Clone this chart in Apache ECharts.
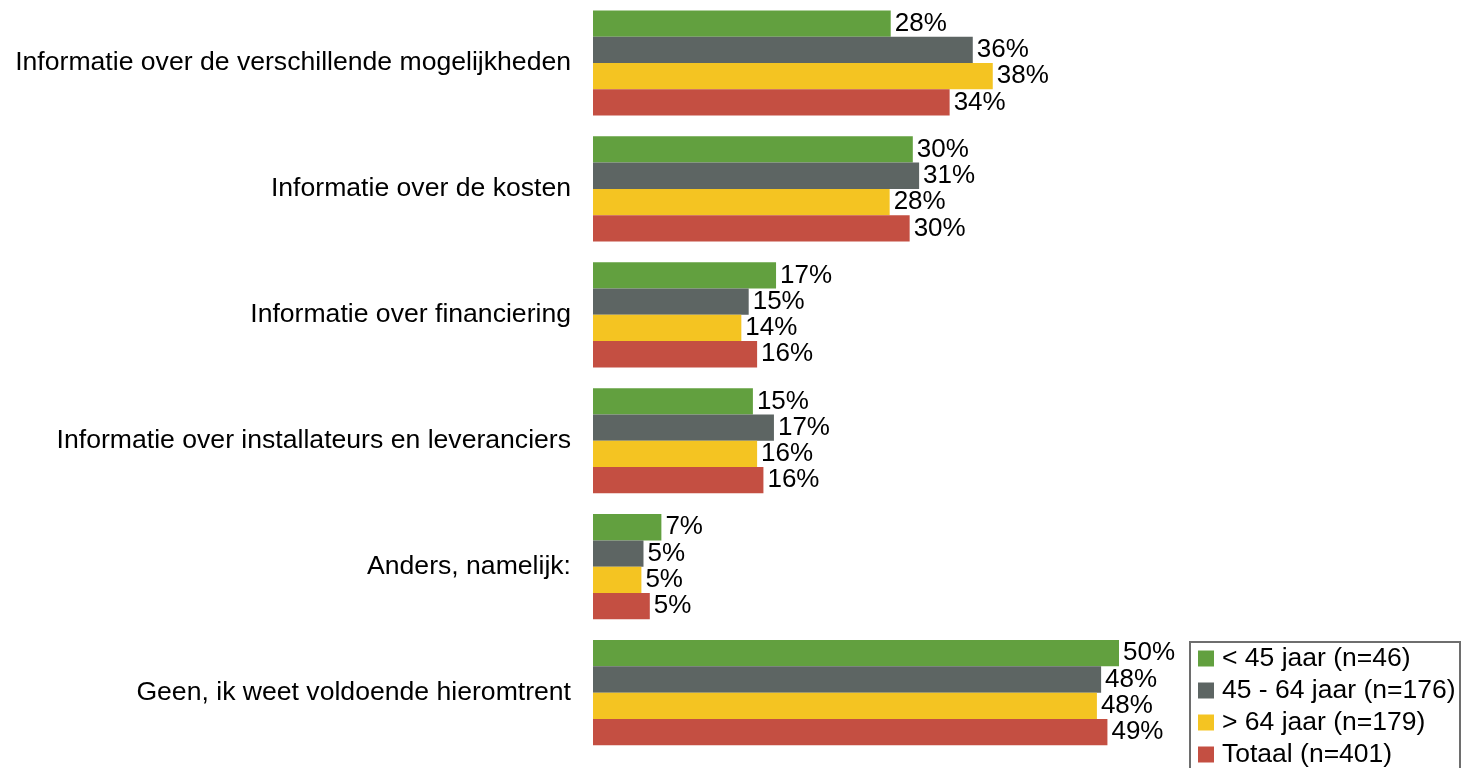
<!DOCTYPE html>
<html>
<head>
<meta charset="utf-8">
<script src="https://cdn.jsdelivr.net/npm/echarts@6/dist/echarts.min.js"></script>
<style>
html,body{margin:0;padding:0;background:#fff;}
#chart{width:1463px;height:768px;}
</style>
</head>
<body>
<div id="chart"></div>
<script>
const categories = [
  "Informatie over de verschillende mogelijkheden",
  "Informatie over de kosten",
  "Informatie over financiering",
  "Informatie over installateurs en leveranciers",
  "Anders, namelijk:",
  "Geen, ik weet voldoende hieromtrent"
];
const seriesNames = ["< 45 jaar (n=46)", "45 - 64 jaar (n=176)", "> 64 jaar (n=179)", "Totaal (n=401)"];
const under45 = [28.3, 30.4, 17.4, 15.2, 6.5, 50.0];
const age45to64 = [36.1, 31.0, 14.8, 17.2, 4.8, 48.3];
const over64 = [38.0, 28.2, 14.1, 15.6, 4.6, 47.9];
const totaal = [33.9, 30.1, 15.6, 16.2, 5.4, 48.9];
const colors = ["#62A03F", "#5D6563", "#F4C422", "#C44F42"];

const dataSets = [under45, age45to64, over64, totaal];
const chart = echarts.init(document.getElementById('chart'));
const font = "'Liberation Sans', Arial, sans-serif";
chart.setOption({
  animation: false,
  textStyle: {fontFamily: font},
  grid: {left: 593, top: -3.4, width: 841.6, height: 759, containLabel: false},
  xAxis: {type: 'value', min: 0, max: 80, show: false},
  yAxis: {
    type: 'category', data: categories, inverse: true,
    axisLine: {show: false}, axisTick: {show: false},
    axisLabel: {fontSize: 26.6, color: '#000', margin: 22, fontFamily: font}
  },
  graphic: [{
    type: 'rect', z: 10,
    shape: {x: 1190, y: 642, width: 270, height: 140},
    style: {fill: 'none', stroke: '#6e6e6e', lineWidth: 2}
  }],
  legend: {
    orient: 'vertical', left: 1198, top: 645,
    padding: 0,
    itemWidth: 16, itemHeight: 16, itemGap: 5,
    icon: 'rect',
    textStyle: {fontSize: 26.5, color: '#000', fontFamily: font, lineHeight: 25, padding: [0, 0, 0, 3]},
    data: seriesNames
  },
  series: dataSets.map((d, i) => ({
    name: seriesNames[i], type: 'bar', data: d,
    barGap: '0%', barCategoryGap: '16.5%',
    itemStyle: {color: colors[i]},
    label: {
      show: true, position: 'right', distance: 4,
      formatter: p => Math.round(p.value) + '%',
      fontSize: 26, color: '#000', fontFamily: font
    }
  }))
});
</script>
</body>
</html>
